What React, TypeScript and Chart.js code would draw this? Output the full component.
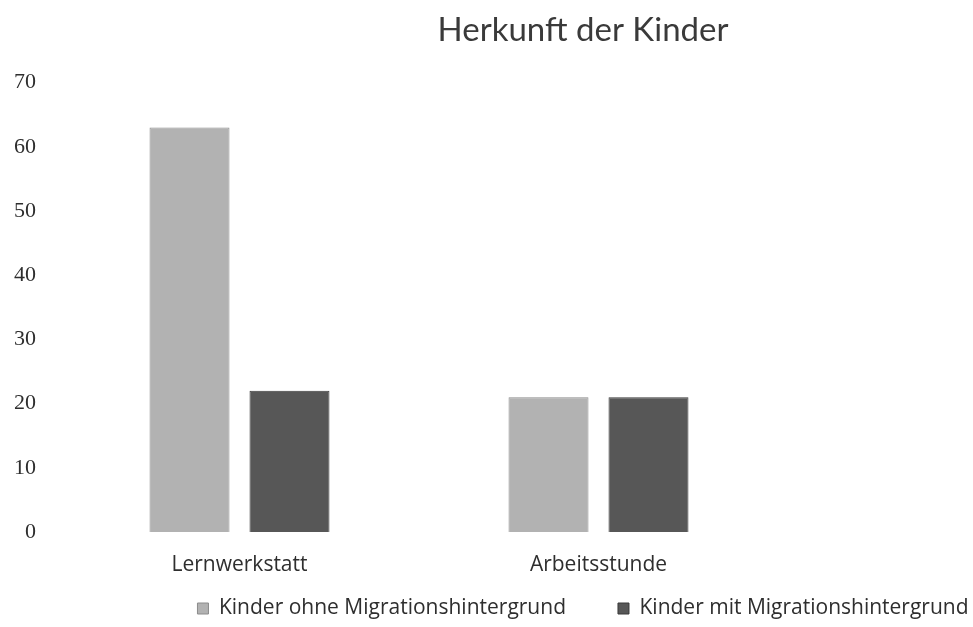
import React, { useEffect, useRef } from "react";
import { Chart, registerables } from "chart.js";

Chart.register(...registerables);

const categories = ["Lernwerkstatt", "Arbeitsstunde"];
const seriesNames = ["Kinder ohne Migrationshintergrund", "Kinder mit Migrationshintergrund"];
const ohneValues = [63, 21];
const mitValues = [22, 21];
const yTicks = [0, 10, 20, 30, 40, 50, 60, 70];
const titleText = "Herkunft der Kinder";

const CANVAS_W = 1166;
const CANVAS_H = 627;
const TEXT_FONT = "'Open Sans', sans-serif";

export default function App() {
  const ref = useRef<HTMLCanvasElement | null>(null);

  useEffect(() => {
    if (!ref.current) return;
    const chart = new Chart(ref.current, {
      type: "bar",
      data: {
        labels: categories,
        datasets: [
          {
            label: seriesNames[0],
            data: ohneValues,
            backgroundColor: "#b2b2b2",
            borderColor: "#8c8c8c",
            borderWidth: 1,
            categoryPercentage: 0.557,
            barPercentage: 0.8,
          },
          {
            label: seriesNames[1],
            data: mitValues,
            backgroundColor: "#575757",
            borderColor: "#3a3a3a",
            borderWidth: 1,
            categoryPercentage: 0.557,
            barPercentage: 0.8,
          },
        ],
      },
      options: {
        responsive: false,
        animation: false,
        layout: { padding: { bottom: -2 } },
        plugins: {
          title: {
            display: true,
            text: titleText,
            color: "#3a3a3a",
            font: { family: "Lato", size: 33, weight: "normal" },
            padding: { top: 11, bottom: 32 },
          },
          legend: {
            position: "bottom",
            labels: {
              color: "#2e2e2e",
              font: { family: TEXT_FONT, size: 21 },
              boxWidth: 11,
              boxHeight: 11,
              padding: 52,
            },
          },
          tooltip: { enabled: false },
        },
        scales: {
          x: {
            grid: { display: false, drawTicks: false },
            border: { display: false },
            ticks: {
              color: "#2e2e2e",
              font: { family: TEXT_FONT, size: 21 },
              mirror: true,
              padding: -46,
            },
            afterFit: (s: any) => {
              s.height = 14;
            },
          },
          y: {
            min: 0,
            max: 70,
            grid: { display: false, drawTicks: false },
            border: { display: false },
            ticks: {
              stepSize: 10,
              color: "#2e2e2e",
              font: { family: "Liberation Serif", size: 22 },
              padding: 24,
              callback: (v: any) => (yTicks.includes(Number(v)) ? String(v) : ""),
            },
            afterFit: (s: any) => {
              s.width = 60;
            },
          },
          yRight: {
            type: "linear",
            position: "right",
            display: true,
            grid: { display: false, drawTicks: false },
            border: { display: false },
            ticks: { display: false },
            afterFit: (s: any) => {
              s.width = CANVAS_W - 778;
            },
          },
        },
      },
    });
    return () => chart.destroy();
  }, []);

  return (
    <div
      style={{
        position: "absolute",
        left: 0,
        top: 0,
        width: 973,
        height: 627,
        overflow: "hidden",
        background: "#ffffff",
      }}
    >
      <canvas ref={ref} width={CANVAS_W} height={CANVAS_H} />
    </div>
  );
}
